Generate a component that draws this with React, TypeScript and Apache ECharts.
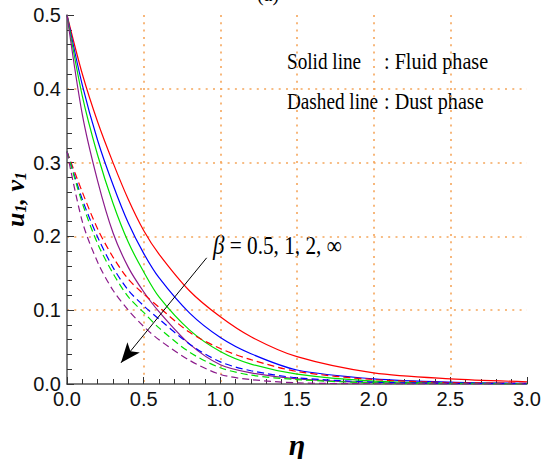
import React, { useEffect, useRef } from 'react';
import * as echarts from 'echarts';

const eta = [0, 0.1, 0.2, 0.3, 0.4, 0.5, 0.6, 0.8, 1.0, 1.2, 1.5, 2.0, 2.5, 3.0];

// Fluid phase (solid), beta = 0.5, 1, 2, inf
const fluid05 = [0.5, 0.42, 0.355, 0.3, 0.25, 0.208, 0.176, 0.126, 0.091, 0.064, 0.037, 0.015, 0.007, 0.003];
const fluid1 = [0.5, 0.405, 0.33, 0.27, 0.218, 0.177, 0.144, 0.096, 0.063, 0.041, 0.019, 0.007, 0.0025, 0.001];
const fluid2 = [0.5, 0.39, 0.31, 0.245, 0.192, 0.152, 0.118, 0.073, 0.044, 0.027, 0.0135, 0.004, 0.0013, 0.0005];
const fluidInf = [0.5, 0.365, 0.275, 0.205, 0.158, 0.125, 0.098, 0.054, 0.026, 0.015, 0.007, 0.002, 0.0005, 0.0002];

// Dust phase (dashed)
const dust05 = [0.315, 0.26, 0.21, 0.172, 0.142, 0.122, 0.104, 0.07, 0.048, 0.033, 0.017, 0.006, 0.002, 0.001];
const dust1 = [0.315, 0.25, 0.199, 0.158, 0.127, 0.106, 0.088, 0.054, 0.03, 0.018, 0.0085, 0.0025, 0.001, 0.0003];
const dust2 = [0.315, 0.245, 0.19, 0.15, 0.118, 0.097, 0.076, 0.043, 0.022, 0.012, 0.006, 0.0015, 0.0005, 0.0002];
const dustInf = [0.315, 0.22, 0.165, 0.127, 0.1, 0.078, 0.06, 0.032, 0.013, 0.006, 0.0016, 0.0003, 0.0001, 0];

const colors = ['#ff0000', '#0000ff', '#00e000', '#8b1a8b'];
const betaNames = ['0.5', '1', '2', '∞'];

// arrow in data coordinates [eta, value]
const arrowFrom = [0.911, 0.171];
const arrowTo = [0.352, 0.0287];

const tickFont = '"Liberation Sans Narrow", "Arial Narrow", "Liberation Sans", Arial, sans-serif';
const serif = '"Liberation Serif", "Times New Roman", serif';

export default function App() {
  const ref = useRef<HTMLDivElement>(null);
  useEffect(() => {
    const chart = echarts.init(ref.current!, null, { renderer: 'svg' });
    const pairs = (vals: number[]) => eta.map((x, i) => [x, vals[i]]);
    const solid = [fluid05, fluid1, fluid2, fluidInf];
    const dashed = [dust05, dust1, dust2, dustInf];
    const series: any[] = [];
    solid.forEach((vals, i) => {
      series.push({
        name: 'Fluid β=' + betaNames[i],
        type: 'line',
        data: pairs(vals),
        smooth: 0.3,
        showSymbol: false,
        symbol: 'none',
        lineStyle: { color: colors[i], width: 1.2, type: 'solid' },
        z: 3,
      });
    });
    dashed.forEach((vals, i) => {
      series.push({
        name: 'Dust β=' + betaNames[i],
        type: 'line',
        data: pairs(vals),
        smooth: 0.3,
        showSymbol: false,
        symbol: 'none',
        lineStyle: { color: colors[i], width: 1.2, type: [7, 4] },
        z: 3,
      });
    });
    series[0].markLine = {
      silent: true,
      symbol: ['none', 'arrow'],
      symbolSize: [12, 20],
      label: { show: false },
      lineStyle: { color: '#000', width: 1, type: 'solid' },
      data: [[{ coord: arrowFrom }, { coord: arrowTo }]],
    };

    const axisColor = '#555';
    const gridLine = { show: true, showMinLine: false, showMaxLine: false, lineStyle: { color: '#f5a65b', type: [2, 5.3], width: 1.6 } };

    chart.setOption({
      animation: false,
      grid: { left: 67, right: 15, top: 15, bottom: 75, outerBoundsMode: 'none', containLabel: false },
      xAxis: {
        type: 'value', min: 0, max: 3, interval: 0.5,
        name: 'η', nameLocation: 'middle', nameGap: 45, nameMoveOverlap: false,
        nameTextStyle: { fontFamily: serif, fontStyle: 'italic', fontWeight: 'bold', fontSize: 30, color: '#000' },
        axisLine: { show: true, onZero: false, lineStyle: { color: axisColor, width: 1.5 } },
        axisTick: { show: true, inside: true, length: 7, lineStyle: { color: '#333', width: 1 } },
        minorTick: { show: true, splitNumber: 5, length: 5, lineStyle: { color: '#333', width: 1 } },
        axisLabel: { formatter: (v: number) => v.toFixed(1), fontFamily: tickFont, fontSize: 20, color: '#111', margin: 5 },
        splitLine: gridLine,
      },
      yAxis: {
        type: 'value', min: 0, max: 0.5, interval: 0.1,
        name: '{u|u}{s|1}{u|, v}{s|1}', nameLocation: 'middle', nameGap: 39, nameMoveOverlap: false,
        nameTextStyle: {
          color: '#000',
          rich: {
            u: { fontFamily: serif, fontStyle: 'italic', fontWeight: 'bold', fontSize: 26, color: '#000' },
            s: { fontFamily: serif, fontStyle: 'italic', fontWeight: 'bold', fontSize: 16, color: '#000', verticalAlign: 'bottom' },
          },
        },
        axisLine: { show: true, onZero: false, lineStyle: { color: axisColor, width: 1.5 } },
        axisTick: { show: true, inside: true, length: 7, lineStyle: { color: '#333', width: 1 } },
        minorTick: { show: true, splitNumber: 5, length: 5, lineStyle: { color: '#333', width: 1 } },
        axisLabel: { formatter: (v: number) => v.toFixed(1), fontFamily: tickFont, fontSize: 20, color: '#111', margin: 6 },
        splitLine: gridLine,
      },
      graphic: [
        { type: 'text', x: 268, y: 4, style: { text: '(a)', font: '20px ' + serif, fill: '#000', align: 'center', verticalAlign: 'bottom' } },
        { type: 'text', x: 287, y: 61, scaleX: 0.8, style: { text: 'Solid line', fontFamily: serif, fontSize: 24, fill: '#000', verticalAlign: 'middle' } },
        { type: 'text', x: 384, y: 61, scaleX: 0.84, style: { text: ': Fluid phase', fontFamily: serif, fontSize: 24, fill: '#000', verticalAlign: 'middle' } },
        { type: 'text', x: 287, y: 101, scaleX: 0.8, style: { text: 'Dashed line', fontFamily: serif, fontSize: 24, fill: '#000', verticalAlign: 'middle' } },
        { type: 'text', x: 384, y: 101, scaleX: 0.84, style: { text: ': Dust phase', fontFamily: serif, fontSize: 24, fill: '#000', verticalAlign: 'middle' } },
        {
          type: 'text', x: 213, y: 245, scaleX: 0.85,
          style: {
            text: '{b|β} = 0.5, 1, 2, ∞',
            fontFamily: serif, fontSize: 25, fill: '#000', verticalAlign: 'middle',
            rich: { b: { fontFamily: serif, fontStyle: 'italic', fontSize: 27, fill: '#000' } },
          },
        },
      ],
      series,
    });
    return () => chart.dispose();
  }, []);
  return <div ref={ref} style={{ position: 'absolute', left: 0, top: 0, width: 542, height: 459 }} />;
}
